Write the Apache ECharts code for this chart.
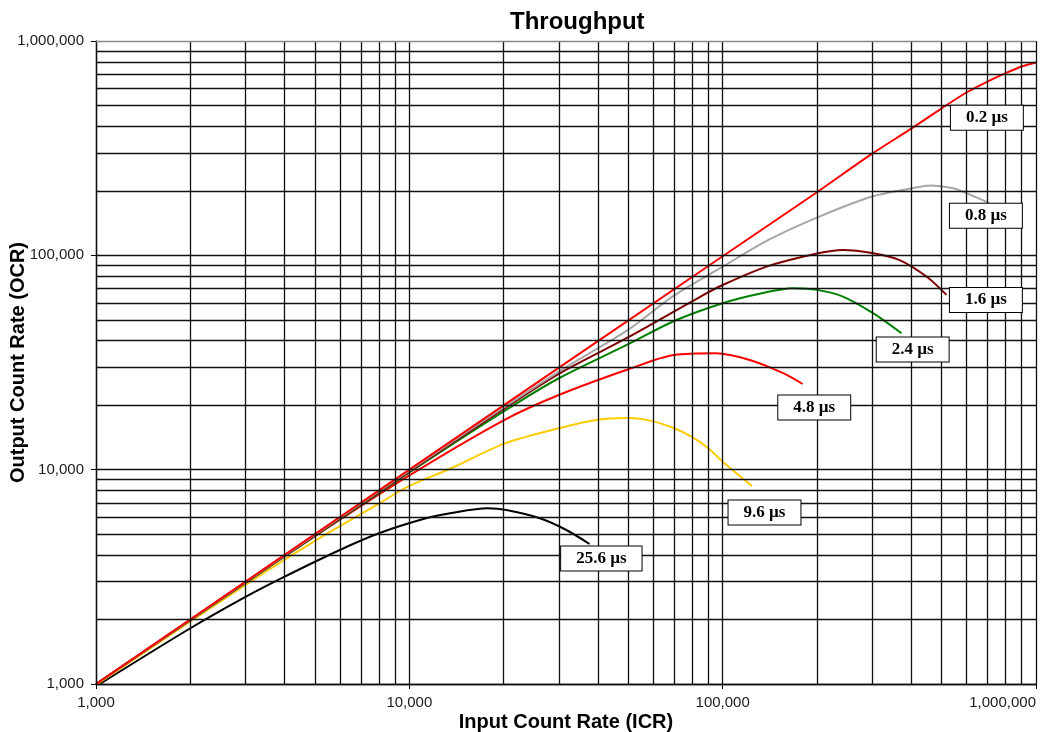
<!DOCTYPE html>
<html lang="en">
<head>
    <meta charset="UTF-8">
    <title>Throughput</title>
    <style>
        html, body { margin: 0; padding: 0; background: #fff; }
        #main { width: 1043px; height: 732px; }
    </style>
</head>
<body>
<div id="main"></div>
<script src="https://cdn.jsdelivr.net/npm/echarts@6/dist/echarts.min.js"></script>
<script type="text/javascript">
    // dead time of each curve, its colour
    var deadTimes = ['25.6 µs', '9.6 µs', '4.8 µs', '2.4 µs', '1.6 µs', '0.8 µs', '0.2 µs'];
    var colors = ['#000000', '#ffcc00', '#ff0000', '#008000', '#800000', '#a6a6a6', '#ff0000'];

    // input count rate (ICR) / output count rate (OCR)
    var icr256 = [1000, 2000, 3000, 4000, 6000, 8000, 11300, 13500, 17800, 20400, 26100, 31700, 37600];
    var ocr256 = [975, 1820, 2550, 3170, 4220, 5050, 5930, 6260, 6600, 6480, 5930, 5230, 4500];

    var icr96 = [1000, 2000, 3000, 4000, 5000, 6000, 8000, 10000, 13500, 20000, 30000, 40000, 50000, 60000, 70000, 80000, 90000, 100000, 124000];
    var ocr96 = [990, 1960, 2900, 3800, 4650, 5450, 6950, 8400, 10100, 13200, 15600, 17100, 17400, 16800, 15600, 14200, 12600, 10900, 8400];

    var icr48 = [1000, 2000, 5000, 10000, 20000, 30000, 50000, 70000, 95000, 122000, 156000, 180000];
    var ocr48 = [1000, 1990, 4900, 9400, 17000, 22300, 29400, 34300, 34900, 32500, 28200, 25100];

    var icr24 = [1000, 10000, 20000, 30000, 50000, 70000, 100000, 130000, 168000, 200000, 242000, 302000, 372000];
    var ocr24 = [1000, 9700, 18700, 26700, 38500, 49400, 59800, 66000, 70200, 69000, 64200, 53700, 43300];

    var icr16 = [1000, 10000, 20000, 30000, 50000, 85000, 100000, 138000, 200000, 242000, 300000, 367000, 447000, 518000];
    var ocr16 = [1000, 9800, 19200, 28000, 41500, 64200, 72700, 88600, 102000, 106000, 102500, 95000, 79600, 65400];

    var icr08 = [1000, 10000, 20000, 30000, 50000, 70000, 100000, 140000, 200000, 300000, 400000, 460000, 540000, 600000, 710000];
    var ocr08 = [1000, 9900, 19500, 28700, 45000, 65000, 88500, 118000, 150000, 188000, 205000, 212000, 206000, 195000, 175000];

    var icr02 = [1000, 10000, 100000, 200000, 300000, 400000, 500000, 600000, 700000, 800000, 900000, 1000000];
    var ocr02 = [1000, 10000, 99000, 197000, 298000, 390000, 485000, 575000, 647000, 708000, 760000, 793000];

    var icrs = [icr256, icr96, icr48, icr24, icr16, icr08, icr02];
    var ocrs = [ocr256, ocr96, ocr48, ocr24, ocr16, ocr08, ocr02];

    // where the boxed dead-time labels sit (data units)
    var labelAt = [[41000, 3850], [136000, 6310], [196000, 19500], [404000, 36400], [692000, 61900], [692000, 153000], [697000, 438000]];

    // log grid lines: 1..9 x every decade
    var gridVals = [];
    [1000, 10000, 100000].forEach(function (d) {
        for (var k = 1; k < 10; k++) gridVals.push(d * k);
    });
    gridVals.push(1000000);

    var sans = "'Liberation Sans', Arial, sans-serif";
    var serif = "'Liberation Serif', 'Times New Roman', serif";

    var myChart = echarts.init(document.getElementById('main'));

    var series = [{
        type: 'line',
        z: 1,
        data: [[1000, 1000]],
        showSymbol: false,
        lineStyle: { opacity: 0 },
        silent: true,
        markLine: {
            silent: true,
            symbol: ['none', 'none'],
            animation: false,
            label: { show: false },
            lineStyle: { color: '#111', width: 1.3, type: 'solid' },
            data: gridVals.map(function (v) { return { xAxis: v }; })
                .concat(gridVals.map(function (v) {
                    // top border is lighter in the original
                    return v === 1000000 ? { yAxis: v, lineStyle: { color: '#888' } } : { yAxis: v };
                }))
        }
    }];

    deadTimes.forEach(function (name, i) {
        series.push({
            name: name,
            type: 'line',
            z: 3,
            smooth: 0.3,
            showSymbol: false,
            lineStyle: { color: colors[i], width: 2 },
            itemStyle: { color: colors[i] },
            data: icrs[i].map(function (x, j) { return [x, ocrs[i][j]]; }),
            markPoint: {
                z: 10,
                animation: false,
                symbol: 'rect',
                symbolSize: 1,
                itemStyle: { color: 'transparent' },
                label: {
                    show: true,
                    position: 'inside',
                    formatter: '{b}',
                    fontFamily: serif,
                    fontWeight: 'bold',
                    fontSize: 17,
                    lineHeight: 17,
                    color: '#000',
                    backgroundColor: '#fff',
                    borderColor: '#000',
                    borderWidth: 1,
                    padding: [4, 15, 3, 15]
                },
                data: [{ name: name, coord: labelAt[i] }]
            }
        });
    });

    myChart.setOption({
        animation: false,
        backgroundColor: '#fff',
        title: {
            text: 'Throughput',
            left: 505,
            top: 5,
            textStyle: { fontFamily: sans, fontSize: 24, fontWeight: 'bold', color: '#000' }
        },
        grid: { left: 96, right: 7, top: 41, bottom: 48, containLabel: false, outerBoundsMode: 'none' },
        xAxis: {
            type: 'log',
            logBase: 10,
            min: 1000,
            max: 1000000,
            name: 'Input Count Rate (ICR)',
            nameLocation: 'middle',
            nameGap: 28,
            nameMoveOverlap: false,
            nameTextStyle: { fontFamily: sans, fontSize: 20, fontWeight: 'bold', color: '#000' },
            axisLine: { lineStyle: { color: '#000', width: 1.3 } },
            axisTick: { show: true, inside: false, length: 5, lineStyle: { color: '#000' } },
            axisLabel: {
                fontFamily: sans, fontSize: 15, color: '#1a1a1a', margin: 11,
                alignMaxLabel: 'right',
                formatter: function (v) { return Math.round(v).toLocaleString('en-US'); }
            },
            splitLine: { show: false }
        },
        yAxis: {
            type: 'log',
            logBase: 10,
            min: 1000,
            max: 1000000,
            name: 'Output Count Rate (OCR)',
            nameLocation: 'middle',
            nameGap: 68,
            nameMoveOverlap: false,
            nameTextStyle: { fontFamily: sans, fontSize: 20, fontWeight: 'bold', color: '#000' },
            axisLine: { show: true, lineStyle: { color: '#000', width: 1.3 } },
            axisTick: { show: true, inside: false, length: 5, lineStyle: { color: '#000' } },
            axisLabel: {
                fontFamily: sans, fontSize: 15, color: '#1a1a1a', margin: 12,
                formatter: function (v) { return Math.round(v).toLocaleString('en-US'); }
            },
            splitLine: { show: false }
        },
        series: series
    });
</script>
</body>
</html>
